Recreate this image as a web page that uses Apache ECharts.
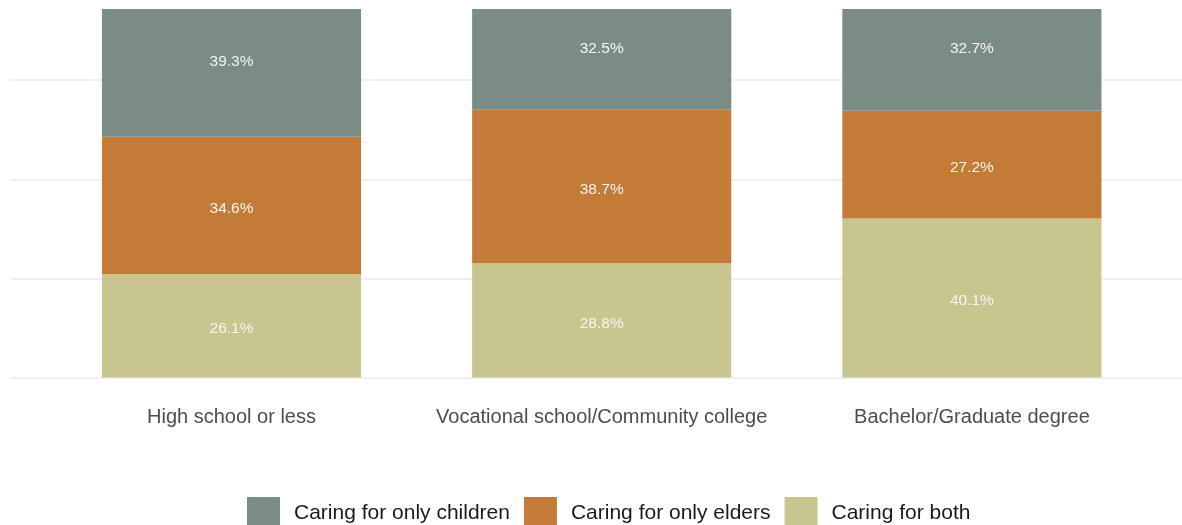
<!DOCTYPE html>
<html>
<head>
<meta charset="utf-8">
<title>Caring responsibilities by education</title>
<script src="https://cdn.jsdelivr.net/npm/echarts@6/dist/echarts.min.js"></script>
<style>
  html, body { margin: 0; padding: 0; background: #fff; overflow: hidden; }
  /* the plot runs above the top edge of the picture, so the chart box starts 19px higher */
  #chart { position: relative; top: -19px; width: 1182px; height: 544px; }
</style>
</head>
<body>
<div id="chart"></div>
<script>
  // categories on the x axis
  var educationLevels = ['High school or less', 'Vocational school/Community college', 'Bachelor/Graduate degree'];
  // shares in percent, stacked bottom -> top: both, elders, children
  var caringBoth = [26.1, 28.8, 40.1];
  var caringElders = [34.6, 38.7, 27.2];
  var caringChildren = [39.3, 32.5, 32.7];
  var seriesNames = ['Caring for only children', 'Caring for only elders', 'Caring for both'];
  var yTicks = [0, 25, 50, 75, 100];

  var FONT = '"Liberation Sans", Arial, sans-serif';
  var OFFSET = 19; // px of the chart hidden above the page

  var chart = echarts.init(document.getElementById('chart'), null, { renderer: 'canvas' });

  function barLabel() {
    return {
      show: true,
      position: 'inside',
      offset: [0, 3],
      color: '#f5f5f5',
      fontFamily: FONT,
      fontSize: 15.5,
      formatter: function (p) {
        return p.value.toFixed(1) + '%'
      }
    }
  }

  var option = {
    backgroundColor: '#ffffff',
    animation: false,
    // grid 0 only carries the wide horizontal grid lines, grid 1 holds the bars
    grid: [
      { left: 10, right: 0, top: 0, bottom: 147.5 },
      { left: 46.4, width: 1110.6, top: 0, bottom: 147.5 }
    ],
    legend: {
      data: seriesNames,
      left: 247,
      top: 497 + OFFSET,
      padding: 0,
      itemWidth: 33,
      itemHeight: 32,   // swatches run off the bottom edge like the original
      itemGap: 14,
      icon: 'rect',
      textStyle: {
        color: '#1a1a1a',
        fontFamily: FONT,
        fontSize: 21,
        padding: [0, 0, 0, 9]
      }
    },
    xAxis: [
      { gridIndex: 0, type: 'value', min: 0, max: 1, show: false },
      {
        gridIndex: 1,
        type: 'category',
        data: educationLevels,
        axisLine: { show: false },
        axisTick: { show: false },
        axisLabel: {
          interval: 0,
          color: '#4d4d4d',
          fontFamily: FONT,
          fontSize: 20,
          margin: 30
        }
      }
    ],
    yAxis: [
      {
        gridIndex: 0,
        type: 'value',
        min: yTicks[0],
        max: yTicks[yTicks.length - 1],
        interval: 25,
        axisLine: { show: false },
        axisTick: { show: false },
        axisLabel: { show: false },
        splitLine: { show: true, lineStyle: { color: '#ebebeb', width: 1.5 } }
      },
      {
        gridIndex: 1,
        type: 'value',
        min: yTicks[0],
        max: yTicks[yTicks.length - 1],
        show: false,
        splitLine: { show: false }
      }
    ],
    series: [
      {
        name: seriesNames[2],
        type: 'bar',
        stack: 'share',
        xAxisIndex: 1,
        yAxisIndex: 1,
        barWidth: '70%',
        itemStyle: { color: '#c9c58f' },
        label: barLabel(),
        data: caringBoth
      },
      {
        name: seriesNames[1],
        type: 'bar',
        stack: 'share',
        xAxisIndex: 1,
        yAxisIndex: 1,
        barWidth: '70%',
        itemStyle: { color: '#c47b37' },
        label: barLabel(),
        data: caringElders
      },
      {
        name: seriesNames[0],
        type: 'bar',
        stack: 'share',
        xAxisIndex: 1,
        yAxisIndex: 1,
        barWidth: '70%',
        itemStyle: { color: '#7a8c83' },
        label: barLabel(),
        data: caringChildren
      }
    ],
    // thin white strip above the cut-off plot
    graphic: [{
      type: 'rect',
      z: 100,
      shape: { x: 0, y: 0, width: 1182, height: OFFSET + 9 },
      style: { fill: '#ffffff' }
    }]
  };

  chart.setOption(option);
</script>
</body>
</html>
